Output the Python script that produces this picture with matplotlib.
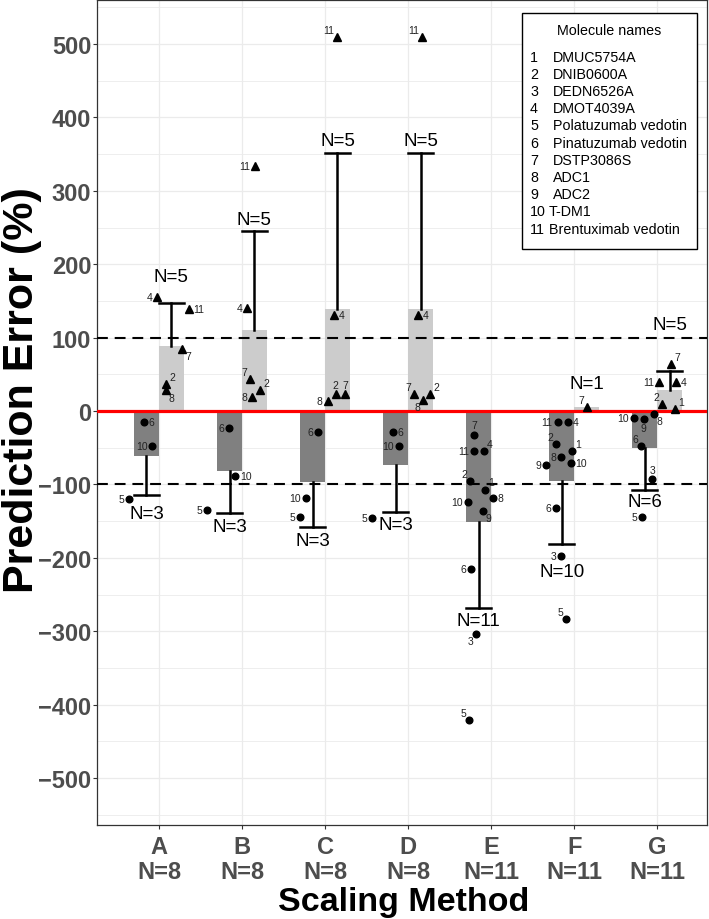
import numpy as np
import matplotlib
matplotlib.use('Agg')
import matplotlib.pyplot as plt
from matplotlib.patches import Rectangle

plt.rcParams['font.family'] = ['Liberation Sans', 'DejaVu Sans']

# ---- data ----
methods = ['A', 'B', 'C', 'D', 'E', 'F', 'G']
method_n = [8, 8, 8, 8, 11, 11, 11]

# under-predictions (circles, dark bars)
neg_ids = [[6, 10, 5], [6, 10, 5], [6, 10, 5], [6, 10, 5],
           [7, 4, 11, 2, 1, 8, 10, 9, 6, 3, 5],
           [11, 4, 2, 1, 8, 10, 9, 6, 3, 5],
           [10, 9, 8, 6, 3, 5]]
neg_vals = [[-15, -47, -120], [-23, -89, -135], [-29, -118, -145], [-29, -47, -146],
            [-32, -54, -55, -95, -107, -118, -124, -136, -215, -304, -421],
            [-15, -15, -45, -54, -63, -71, -73, -132, -198, -284],
            [-9, -11, -4, -48, -93, -144]]
neg_mean = [-61, -82, -97, -74, -151, -95, -51]
neg_sd_end = [-115, -139, -158, -137, -269, -181, -107]
neg_count = [3, 3, 3, 3, 11, 10, 6]

# over-predictions (triangles, light bars)
pos_ids = [[4, 11, 7, 2, 8], [11, 4, 7, 2, 8], [11, 4, 2, 7, 8], [11, 4, 7, 8, 2],
           [], [7], [7, 11, 4, 2, 1]]
pos_vals = [[156, 139, 84, 37, 28], [334, 140, 44, 28, 19], [510, 131, 23, 23, 14],
            [510, 131, 23, 15, 23], [], [6], [64, 39, 39, 9, 3]]
pos_mean = [88, 111, 139, 139, None, 6, 29]
pos_sd_end = [147, 245, 351, 351, None, None, 54]
pos_count = [5, 5, 5, 5, 0, 1, 5]

molecules = ['DMUC5754A', 'DNIB0600A', 'DEDN6526A', 'DMOT4039A',
             'Polatuzumab vedotin', 'Pinatuzumab vedotin', 'DSTP3086S',
             'ADC1', 'ADC2', 'T-DM1', 'Brentuximab vedotin']

# ---- layout helpers (jitter, label placement) ----
neg_jit = [[-0.03, 0.07, -0.21], [-0.01, 0.07, -0.27], [0.07, -0.08, -0.15], [-0.03, 0.04, -0.28],
           [-0.05, 0.07, -0.05, -0.10, 0.08, 0.17, -0.13, 0.05, -0.09, -0.03, -0.12],
           [-0.05, 0.07, -0.07, 0.13, -0.01, 0.11, -0.19, -0.07, -0.01, 0.05],
           [-0.13, -0.01, 0.11, -0.04, 0.09, -0.03]]
pos_jit = [[-0.17, 0.21, 0.13, -0.06, -0.07], [0.01, -0.09, -0.05, 0.07, -0.03],
           [0.0, -0.04, -0.02, 0.09, -0.12], [0.02, -0.03, -0.08, 0.03, 0.12],
           [], [0.0], [0.02, -0.13, 0.08, -0.09, 0.07]]
neg_lab = [['r', 'l', 'l'], ['l', 'r', 'l'], ['l', 'l', 'l'], ['r', 'l', 'l'],
           ['u', 'ur', 'l', 'ul', 'ur', 'r', 'l', 'dr', 'l', 'dl', 'ul'],
           ['l', 'r', 'ul', 'ur', 'l', 'r', 'l', 'l', 'l', 'ul'],
           ['l', 'd', 'dr', 'ul', 'u', 'l']]
pos_lab = [['l', 'r', 'dr', 'ur', 'dr'], ['l', 'l', 'ul', 'ur', 'l'], ['ul', 'r', 'u', 'u', 'l'],
           ['ul', 'r', 'ul', 'dl', 'ur'], [], ['ul'], ['ur', 'l', 'r', 'ul', 'ur']]
neg_nlab_y = [-140, -158, -177, -155, -286, -218, -123]
pos_nlab_y = [183, 261, 368, 368, None, 37, 118]

offsets = {
    'l': ((-3.5, 0), 'right', 'center'),
    'r': ((3.5, 0), 'left', 'center'),
    'u': ((0, 3), 'center', 'bottom'),
    'd': ((0, -3), 'center', 'top'),
    'ul': ((-2, 1.5), 'right', 'bottom'),
    'ur': ((2, 1.5), 'left', 'bottom'),
    'dl': ((-2, -1.5), 'right', 'top'),
    'dr': ((2, -1.5), 'left', 'top'),
}

BW = 0.3
DARK = '#808080'
LIGHT = '#CCCCCC'

fig = plt.figure(figsize=(7.09, 9.2), dpi=100)
ax = fig.add_axes([0.1375, 0.1022, 0.8597, 0.8967])

x = np.arange(1, len(methods) + 1)


def label_points(xs, ys, ids, codes):
    for xi, yi, mid, c in zip(xs, ys, ids, codes):
        (dx, dy), ha, va = offsets[c]
        ax.annotate(str(mid), (xi, yi), xytext=(dx, dy), textcoords='offset points',
                    ha=ha, va=va, fontsize=7.5, color='#222222', zorder=6)


for i in range(len(methods)):
    xn = x[i] - BW / 2
    xp = x[i] + BW / 2

    # dark bar (mean of negative errors) + one-sided SD
    ax.bar(xn, neg_mean[i], width=BW, color=DARK, zorder=2)
    ax.plot([xn, xn], [neg_mean[i], neg_sd_end[i]], color='black', lw=1.8, zorder=3)
    ax.plot([xn - BW / 2, xn + BW / 2], [neg_sd_end[i]] * 2, color='black', lw=1.8, zorder=3)
    ax.text(xn, neg_nlab_y[i], f'N={neg_count[i]}', ha='center', va='center',
            fontsize=13.5, zorder=6)
    px = xn + np.array(neg_jit[i])
    ax.plot(px, neg_vals[i], 'o', color='black', ms=4.8, zorder=5)
    label_points(px, neg_vals[i], neg_ids[i], neg_lab[i])

    if pos_count[i] == 0:
        continue
    ax.bar(xp, pos_mean[i], width=BW, color=LIGHT, zorder=2)
    if pos_sd_end[i] is not None:
        ax.plot([xp, xp], [pos_mean[i], pos_sd_end[i]], color='black', lw=1.8, zorder=3)
        ax.plot([xp - BW / 2, xp + BW / 2], [pos_sd_end[i]] * 2, color='black', lw=1.8, zorder=3)
    ax.text(xp, pos_nlab_y[i], f'N={pos_count[i]}', ha='center', va='center',
            fontsize=13.5, zorder=6)
    px = xp + np.array(pos_jit[i])
    ax.plot(px, pos_vals[i], '^', color='black', ms=6, zorder=5)
    label_points(px, pos_vals[i], pos_ids[i], pos_lab[i])

# reference lines
ax.axhline(0, color='#FF0000', lw=2.3, zorder=4)
for yv in (100, -100):
    ax.axhline(yv, color='black', lw=1.5, dashes=(5.2, 3.3), zorder=4)

# axes styling (theme_bw-like)
ax.set_xlim(0.26, 7.6)
ax.set_ylim(-564, 560)
ax.set_yticks(np.arange(-500, 501, 100))
ax.set_yticks(np.arange(-550, 551, 50), minor=True)
ax.set_xticks(x)
ax.set_xticklabels([f'{m}\nN={n}' for m, n in zip(methods, method_n)],
                   fontsize=17, fontweight='bold', color='#4D4D4D', linespacing=1.12)
ax.tick_params(axis='y', labelsize=17, labelcolor='#4D4D4D', length=3, width=0.8,
               color='#333333', pad=1.5)
for t in ax.get_yticklabels():
    t.set_fontweight('bold')
ax.tick_params(axis='x', length=3, width=0.8, color='#333333', pad=4)
ax.tick_params(axis='y', which='minor', length=0)
ax.grid(True, which='major', color='#EBEBEB', lw=0.9, zorder=0)
ax.grid(True, which='minor', axis='y', color='#EBEBEB', lw=0.6, zorder=0)
ax.set_axisbelow(True)
for s in ax.spines.values():
    s.set_color('#333333')
    s.set_linewidth(0.9)

fig.text(0.031, 0.576, 'Prediction Error (%)', rotation=90, ha='center', va='center',
         fontsize=31, fontweight='bold')
fig.text(0.5695, 0.0098, 'Scaling Method', ha='center', va='baseline',
         fontsize=24.5, fontweight='bold')

# molecule name key
fig.patches.append(Rectangle((0.736, 0.728), 0.247, 0.257, transform=fig.transFigure,
                             facecolor='white', edgecolor='black', lw=1.0, zorder=10))
fig.text(0.859, 0.966, 'Molecule names', ha='center', va='center', fontsize=10.3, zorder=11)
for k, name in enumerate(molecules):
    num = str(k + 1)
    yk = 0.9375 - k * 0.0187
    name_x = 0.780 if len(num) == 1 else 0.7745
    fig.text(0.7475, yk, num, ha='left', va='center', fontsize=10.3, zorder=11)
    fig.text(name_x, yk, name, ha='left', va='center', fontsize=10.3, zorder=11)

fig.savefig('out.png', dpi=100)
